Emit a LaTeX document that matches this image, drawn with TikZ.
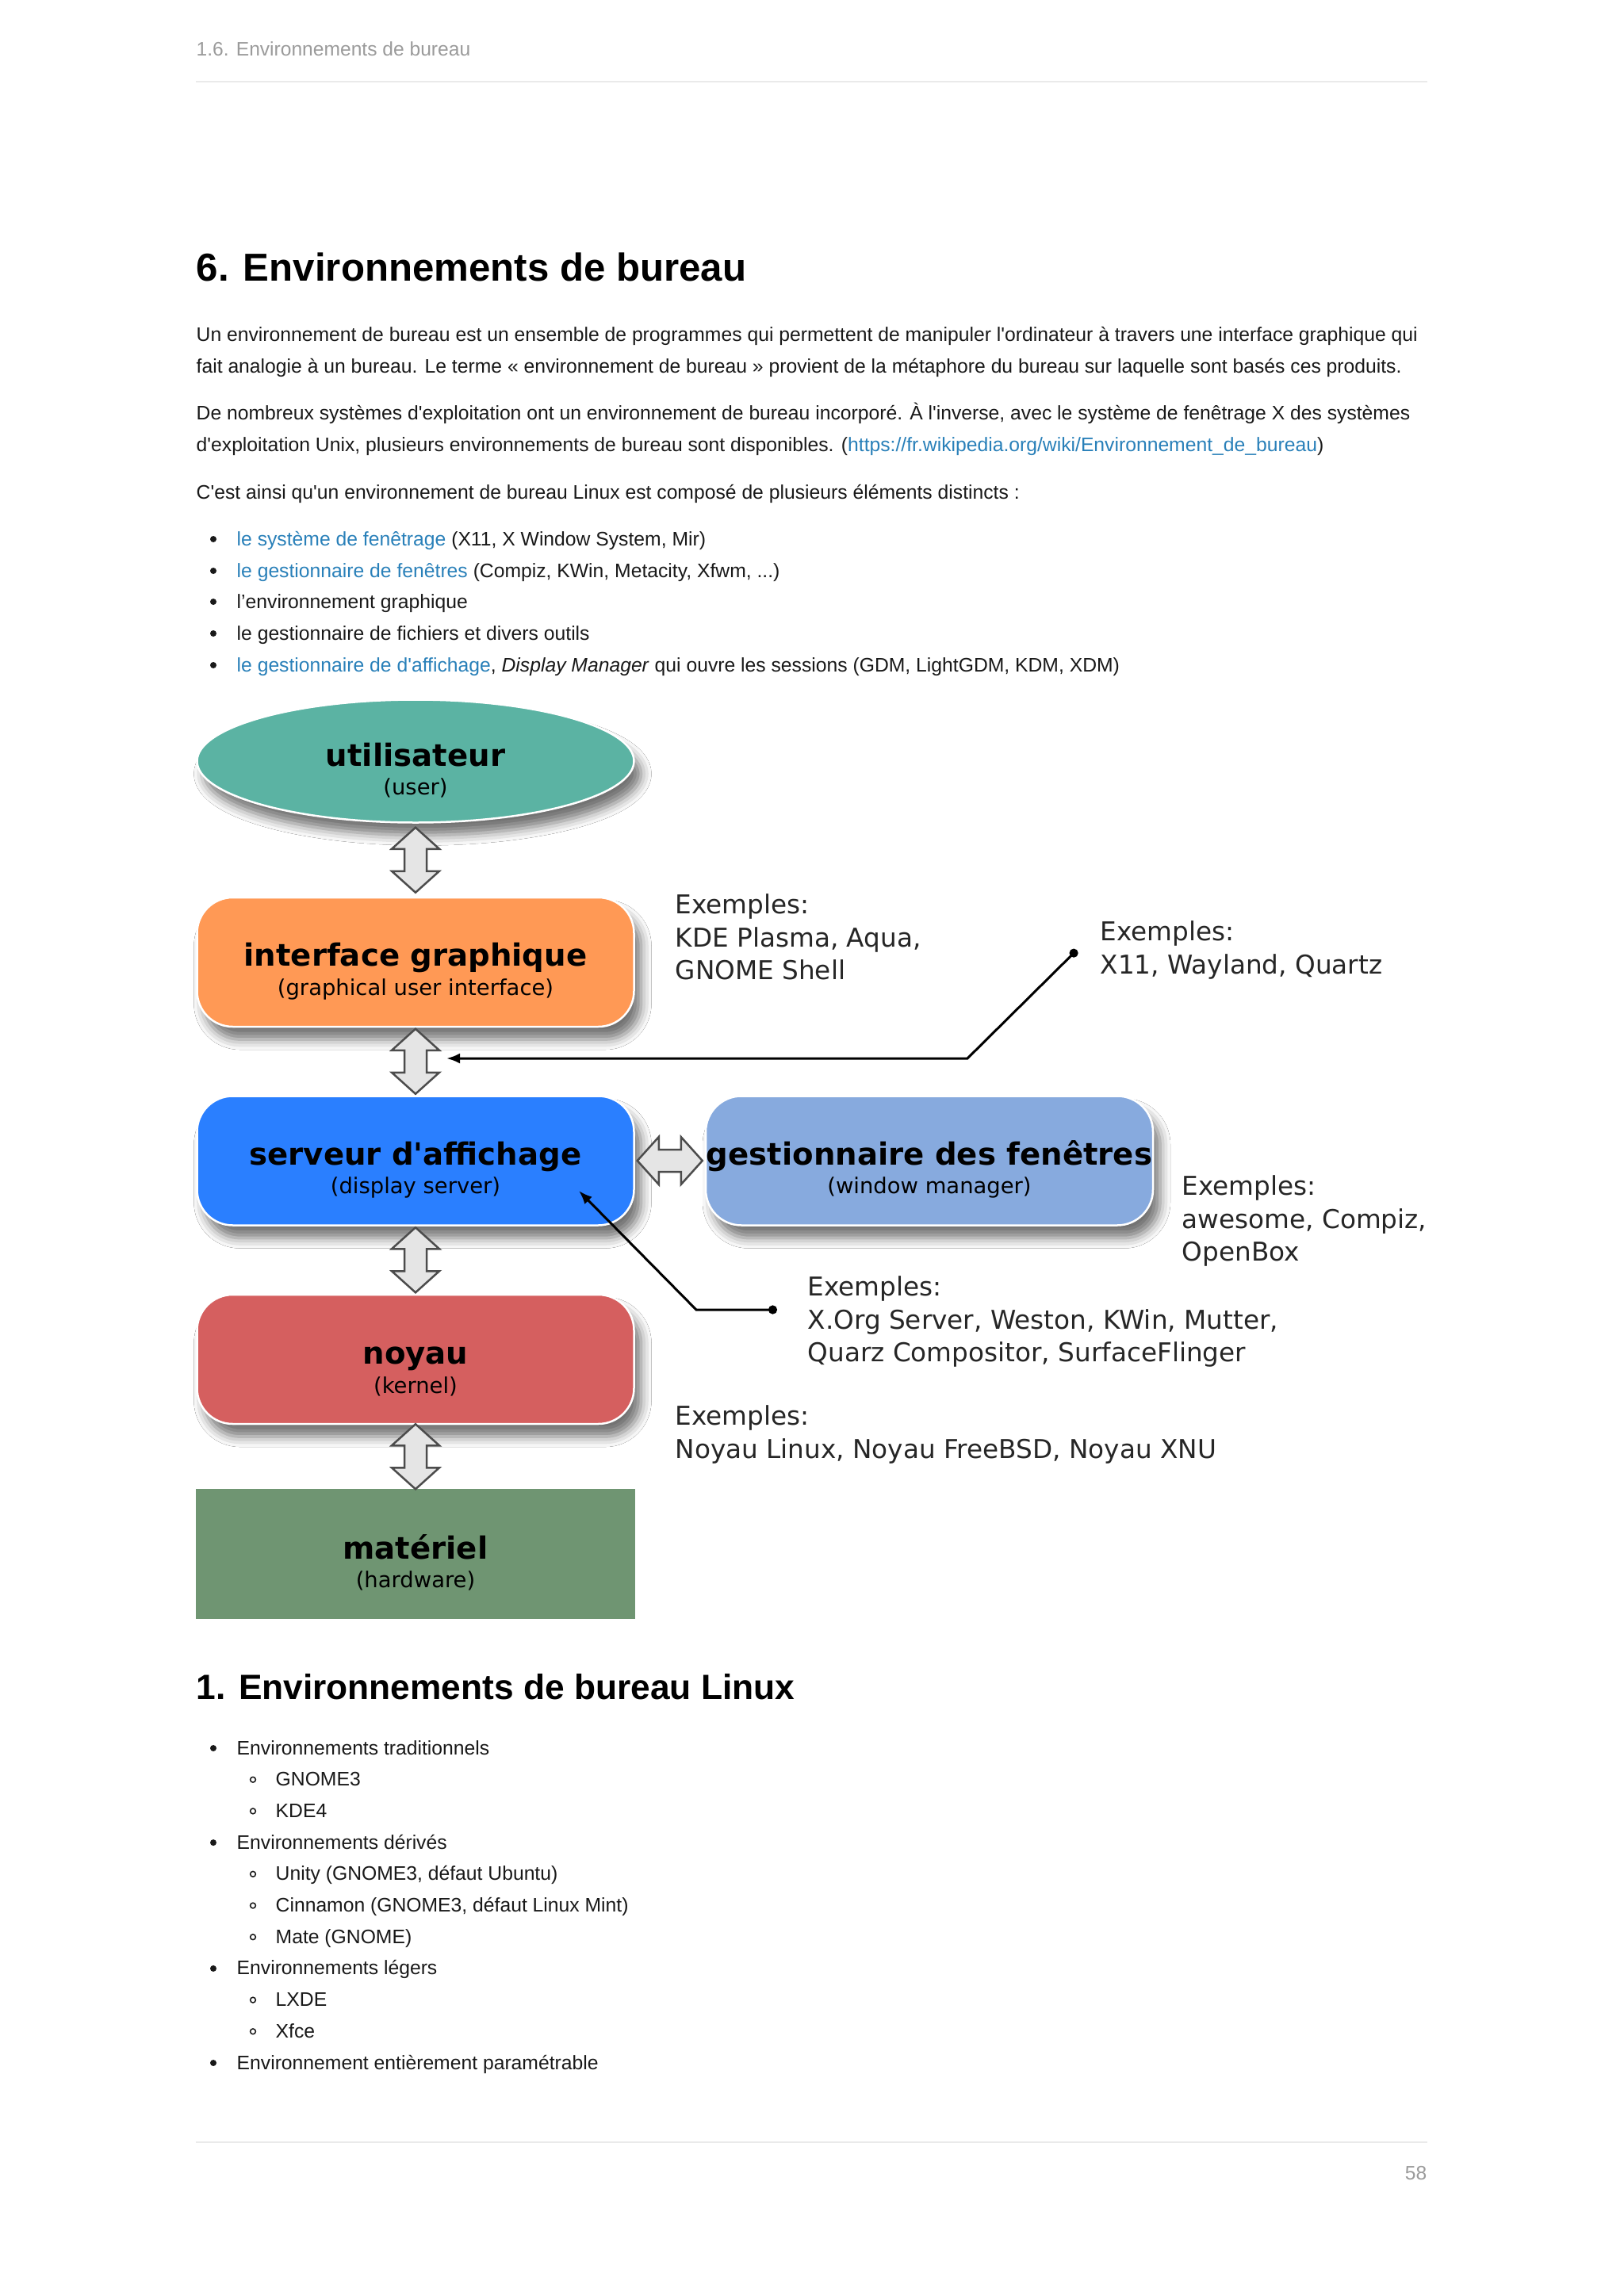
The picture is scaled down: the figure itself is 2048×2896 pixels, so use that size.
\documentclass[tikz,border=0pt]{standalone}
\usepackage{fontspec}
\setmainfont{Liberation Sans}[Ligatures=TeXOff]
\newfontfamily\dejavu{DejaVu Sans}[Ligatures=TeXOff]
\usepackage{xcolor}
\usetikzlibrary{shapes.geometric, arrows.meta, positioning, calc, shadows.blur}

\definecolor{tealuser}{RGB}{91,179,163}
\definecolor{orangegui}{RGB}{255,153,85}
\definecolor{bluesrv}{RGB}{42,127,255}
\definecolor{bluewm}{RGB}{135,170,222}
\definecolor{redkern}{RGB}{213,95,95}
\definecolor{greenhw}{RGB}{111,149,114}
\definecolor{linkblue}{RGB}{41,128,185}
\definecolor{headgray}{RGB}{155,155,155}
\definecolor{rulegray}{RGB}{234,234,234}
\definecolor{textdark}{RGB}{25,25,25}

\newcommand{\layertext}[2]{{\bfseries\fontsize{11}{10.3}\selectfont\rule{0pt}{15pt}#1}\\#2}
\newcommand{\lnk}[1]{\textcolor{linkblue}{#1}}

\begin{document}
\begin{tikzpicture}[
    x=0.1mm, y=-0.1mm,
    body/.style={anchor=base west, inner sep=0pt, text=textdark, font=\fontsize{7.03}{11.4}\selectfont},
    para/.style={body, anchor=north west, align=left},
    heading/.style={anchor=base west, inner sep=0pt, text=black, font=\bfseries\fontsize{14}{16}\selectfont},
    layer/.style={align=center, inner xsep=0pt, text=black, draw=white, line width=0.25mm,
        font=\dejavu\fontsize{7.8}{10.3}\selectfont,
        blur shadow={shadow xshift=0.9mm, shadow yshift=-1.6mm, shadow blur radius=1.3mm, shadow opacity=55}},
    box/.style={layer, rectangle, rounded corners=4.5mm, minimum width=55.1mm, minimum height=16.3mm},
    example/.style={anchor=north west, inner sep=0pt, align=left, text=black!85, font=\dejavu\fontsize{9.3}{11.8}\selectfont},
    link/.style={{Circle[length=1.1mm]}-{Latex[length=1.7mm,width=1.3mm]}, line width=0.3mm, black},
    dblarrow/.pic={\draw[fill=black!10, draw=black!70, line width=0.25mm]
        (0,-41) -- (30,-14) -- (14,-14) -- (14,14) -- (30,14) -- (0,41)
        -- (-30,14) -- (-14,14) -- (-14,-14) -- (-30,-14) -- cycle;}
]
    \fill[white] (0,0) rectangle (2048,2896);
    \useasboundingbox (0,0) rectangle (2048,2896);

    % Running head
    \node[anchor=base west, inner sep=0pt, text=headgray, font=\fontsize{7}{8}\selectfont] (runhead) at (247,71) {1.6. Environnements de bureau};
    \draw[rulegray, line width=0.2mm] (247,103) -- (1800,103);

    % Section 6
    \node[heading] (h1) at (247,355) {6. Environnements de bureau};
    \node[para] (p1) at (247,402) {\strut Un environnement de bureau est un ensemble de programmes qui permettent de manipuler l'ordinateur à travers une interface graphique qui\\fait analogie à un bureau. Le terme « environnement de bureau » provient de la métaphore du bureau sur laquelle sont basés ces produits.};
    \node[para] (p2) at (247,501) {\strut De nombreux systèmes d'exploitation ont un environnement de bureau incorporé. À l'inverse, avec le système de fenêtrage X des systèmes\\d'exploitation Unix, plusieurs environnements de bureau sont disponibles. (\lnk{https://fr.wikipedia.org/wiki/Environnement\_de\_bureau})};
    \node[body] (p3) at (247,629) {C'est ainsi qu'un environnement de bureau Linux est composé de plusieurs éléments distincts :};

    % Bullets
    \foreach \y in {688,728,767,807,847}
        \fill[textdark] (269,\y-8) circle (4);
    \node[body] (b1) at (298,688) {\lnk{le système de fenêtrage} (X11, X Window System, Mir)};
    \node[body] (b2) at (298,728) {\lnk{le gestionnaire de fenêtres} (Compiz, KWin, Metacity, Xfwm, ...)};
    \node[body] (b3) at (298,767) {l’environnement graphique};
    \node[body] (b4) at (298,807) {le gestionnaire de fichiers et divers outils};
    \node[body] (b5) at (298,847) {\lnk{le gestionnaire de d'affichage}, \textit{Display Manager} qui ouvre les sessions (GDM, LightGDM, KDM, XDM)};

    % Layers
    \node[layer, ellipse, inner sep=0pt, fill=tealuser, minimum width=55.1mm, minimum height=15.5mm] (user) at (524,960) {\layertext{utilisateur}{(user)}};
    \node[box, fill=orangegui, below=9.2mm of user] (gui) {\layertext{interface graphique}{(graphical user interface)}};
    \node[box, fill=bluesrv, below=8.5mm of gui] (srv) {\layertext{serveur d'affichage}{(display server)}};
    \node[box, fill=redkern, below=8.5mm of srv] (kern) {\layertext{noyau}{(kernel)}};
    \node[align=center, inner xsep=0pt, fill=greenhw, font=\dejavu\fontsize{7.8}{10.3}\selectfont,
        minimum width=55.4mm, minimum height=16.4mm, below=8mm of kern] (hw) {\layertext{matériel}{(hardware)}};
    \node[box, fill=bluewm, minimum width=56.4mm, right=8.8mm of srv] (wm) {\layertext{gestionnaire des fenêtres}{(window manager)}};

    % Double arrows
    \pic at ($(user.south)!.5!(gui.north)$) {dblarrow};
    \pic at ($(gui.south)!.5!(srv.north)$) {dblarrow};
    \pic at ($(srv.south)!.5!(kern.north)$) {dblarrow};
    \pic at ($(kern.south)!.5!(hw.north)$) {dblarrow};
    \pic[rotate=90] at ($(srv.east)!.5!(wm.west)$) {dblarrow};

    % Examples
    \node[example] (guiex) at (851,1127) {Exemples:\\KDE Plasma, Aqua,\\GNOME Shell};
    \node[example] (protoex) at (1387,1161) {Exemples:\\X11, Wayland, Quartz};
    \node[example] (wmex) at (1490,1482) {Exemples:\\awesome, Compiz,\\OpenBox};
    \node[example] (srvex) at (1018,1609) {Exemples:\\X.Org Server, Weston, KWin, Mutter,\\Quarz Compositor, SurfaceFlinger};
    \node[example] (kernex) at (851,1772) {Exemples:\\Noyau Linux, Noyau FreeBSD, Noyau XNU};

    % Pointers
    \coordinate (protodot) at ($(protoex.west)+(-29,0)$);
    \coordinate (protobend) at (1220,1335);
    \coordinate (prototip) at (563,1335);
    \draw[link] (protodot) -- (protobend) -- (prototip);
    \coordinate (srvdot) at ($(srvex.west)+(-38,-15)$);
    \coordinate (srvbend) at (878,1652);
    \coordinate (srvtip) at (730,1502);
    \draw[link] (srvdot) -- (srvbend) -- (srvtip);

    % Section 1
    \node[heading, font=\bfseries\fontsize{12.6}{15}\selectfont] (h2) at (247,2143) {1. Environnements de bureau Linux};
    \foreach [count=\i] \y/\lvl/\txt in {2213/1/Environnements traditionnels, 2252.7/2/GNOME3, 2292.4/2/KDE4,
        2332.1/1/Environnements dérivés, 2371.8/2/{Unity (GNOME3, défaut Ubuntu)},
        2411.5/2/{Cinnamon (GNOME3, défaut Linux Mint)}, 2451.2/2/Mate (GNOME),
        2490.9/1/Environnements légers, 2530.6/2/LXDE, 2570.3/2/Xfce,
        2610/1/Environnement entièrement paramétrable}{
        \ifnum\lvl=1
            \fill[textdark] (269,\y-8) circle (4);
            \node[body] (item\i) at (298,\y) {\txt};
        \else
            \draw[textdark, line width=0.15mm] (319,\y-8) circle (3.4);
            \node[body] (item\i) at (347,\y) {\txt};
        \fi
    }

    % Footer
    \draw[rulegray, line width=0.2mm] (247,2702) -- (1800,2702);
    \node[anchor=base east, inner sep=0pt, text=headgray, font=\fontsize{7}{8}\selectfont] (pagenum) at (1800,2749) {58};
\end{tikzpicture}
\end{document}
